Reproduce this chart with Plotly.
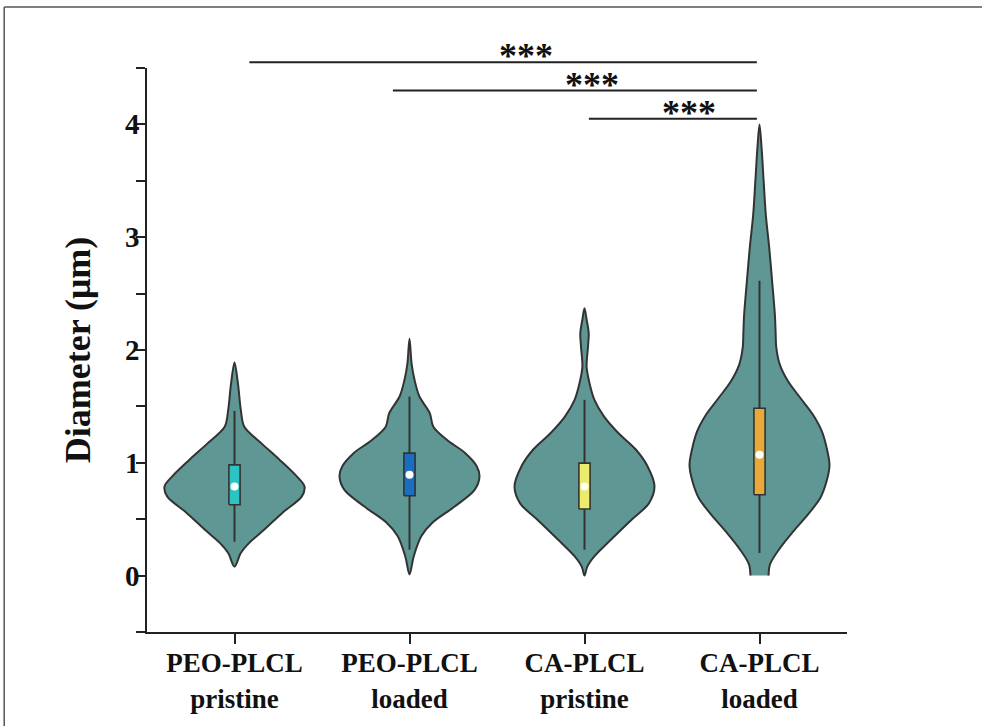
import plotly.graph_objects as go

# ---------------- data ----------------
categories = ["PEO-PLCL<br>pristine", "PEO-PLCL<br>loaded", "CA-PLCL<br>pristine", "CA-PLCL<br>loaded"]

# violin density profiles (y level in µm, relative half-width 0..1)
v1_y = [0.08, 0.20, 0.29, 0.41, 0.56, 0.70, 0.79, 0.88, 1.03, 1.17, 1.32, 1.47, 1.70, 1.89]
v1_d = [0.0, 0.09, 0.21, 0.43, 0.69, 0.96, 1.0, 0.89, 0.64, 0.39, 0.14, 0.09, 0.05, 0.0]

v2_y = [0.01, 0.17, 0.35, 0.47, 0.61, 0.76, 0.88, 0.97, 1.09, 1.20, 1.32, 1.44, 1.59, 1.74, 1.88, 2.10]
v2_d = [0.0, 0.06, 0.17, 0.33, 0.64, 0.93, 1.0, 0.96, 0.79, 0.54, 0.34, 0.29, 0.14, 0.07, 0.03, 0.0]

v3_y = [0.0, 0.08, 0.17, 0.32, 0.50, 0.64, 0.79, 0.97, 1.12, 1.26, 1.41, 1.56, 1.71, 1.85, 2.03, 2.15, 2.27, 2.37]
v3_d = [0.0, 0.04, 0.14, 0.38, 0.68, 0.92, 1.0, 0.90, 0.73, 0.49, 0.28, 0.14, 0.07, 0.03, 0.05, 0.06, 0.03, 0.0]

v4_y = [0.0, 0.10, 0.25, 0.39, 0.54, 0.69, 0.84, 0.98, 1.13, 1.28, 1.43, 1.57, 1.72, 1.87, 2.02, 2.16, 2.31,
        2.61, 2.90, 3.20, 3.49, 3.79, 4.0]
v4_d = [0.13, 0.15, 0.30, 0.48, 0.69, 0.87, 0.96, 1.0, 0.96, 0.89, 0.76, 0.59, 0.41, 0.29, 0.24, 0.23, 0.22,
        0.18, 0.14, 0.09, 0.06, 0.03, 0.0]

violin_y = [v1_y, v2_y, v3_y, v4_y]
violin_d = [v1_d, v2_d, v3_d, v4_d]

# box statistics
q1 = [0.628, 0.708, 0.590, 0.717]
q3 = [0.982, 1.086, 0.997, 1.484]
median = [0.79, 0.894, 0.79, 1.071]
whisker_lo = [0.30, 0.23, 0.23, 0.20]
whisker_hi = [1.46, 1.587, 1.558, 2.613]

# significance brackets
sig_start = [0.085, 0.905, 2.025]
sig_end = [2.985, 2.985, 2.985]
sig_level = [4.55, 4.30, 4.05]
sig_star_x = [1.663, 2.045, 2.596]
sig_text = ["***", "***", "***"]

y_ticks = [0, 1, 2, 3, 4]
y_ticklabels = ["0", "1", "2", "3", "4"]

# ---------------- style ----------------
VIOLIN_FILL = "#5f9794"
OUTLINE = "#333333"
BOX_COLORS = ["#2ec3c3", "#1a6ec2", "#ecec6c", "#e8a83a"]
HALF_WIDTH = 0.40
BOX_HALF = 0.032
FONT = "Liberation Serif"
Y_RANGE = [-0.5, 4.5]

fig = go.Figure()

for i in range(len(categories)):
    ys = violin_y[i]
    ds = violin_d[i]
    left_x = [i - HALF_WIDTH * d for d in ds]
    right_x = [i + HALF_WIDTH * d for d in ds]
    xs = left_x + right_x[::-1][1:]
    yy = ys + ys[::-1][1:]
    fig.add_trace(go.Scatter(
        x=xs, y=yy, mode="lines", fill="toself", fillcolor=VIOLIN_FILL,
        line=dict(color=OUTLINE, width=2, shape="spline", smoothing=0.9),
        hoverinfo="skip", showlegend=False))
    # whisker
    fig.add_trace(go.Scatter(
        x=[i, i], y=[whisker_lo[i], whisker_hi[i]], mode="lines",
        line=dict(color=OUTLINE, width=2), hoverinfo="skip", showlegend=False))
    # box
    fig.add_trace(go.Scatter(
        x=[i - BOX_HALF, i + BOX_HALF, i + BOX_HALF, i - BOX_HALF, i - BOX_HALF],
        y=[q1[i], q1[i], q3[i], q3[i], q1[i]], mode="lines", fill="toself",
        fillcolor=BOX_COLORS[i], line=dict(color=OUTLINE, width=1.6),
        hoverinfo="skip", showlegend=False))
    # median
    fig.add_trace(go.Scatter(
        x=[i], y=[median[i]], mode="markers",
        marker=dict(color="white", size=8, line=dict(width=0)),
        hoverinfo="skip", showlegend=False))

def to_paper(v):
    return (v - Y_RANGE[0]) / (Y_RANGE[1] - Y_RANGE[0])

shapes = []
annotations = []
for s, e, lvl, sx, t in zip(sig_start, sig_end, sig_level, sig_star_x, sig_text):
    shapes.append(dict(type="line", xref="x", yref="paper", x0=s, x1=e,
                       y0=to_paper(lvl), y1=to_paper(lvl),
                       line=dict(color="#222222", width=2)))
    annotations.append(dict(x=sx, y=to_paper(lvl), xref="x", yref="paper",
                            text=t, showarrow=False, yanchor="bottom", yshift=-16,
                            font=dict(family=FONT, size=36, weight="bold", color="#111111")))

# y tick labels placed close to the ticks
for v, lab in zip(y_ticks, y_ticklabels):
    annotations.append(dict(x=0, y=v, xref="paper", yref="y", text=lab, showarrow=False,
                            xanchor="right", yanchor="middle", xshift=-5,
                            font=dict(family=FONT, size=29, weight="bold", color="#111111")))

# outer frame (left and top edges)
shapes.append(dict(type="line", xref="paper", yref="paper", x0=-0.204, x1=-0.204, y0=-0.3, y1=1.108,
                   line=dict(color="#555555", width=1.5)))
shapes.append(dict(type="line", xref="paper", yref="paper", x0=-0.204, x1=1.3, y0=1.108, y1=1.108,
                   line=dict(color="#555555", width=1.5)))

fig.update_layout(
    width=982, height=726, autosize=False,
    margin=dict(l=147, r=135, t=68, b=94, autoexpand=False),
    paper_bgcolor="white", plot_bgcolor="white",
    shapes=shapes, annotations=annotations,
    font=dict(family=FONT, color="#111111"),
)
fig.update_xaxes(
    range=[-0.5, 3.5], tickvals=list(range(len(categories))), ticktext=categories,
    showline=True, linecolor="#222222", linewidth=2,
    ticks="outside", ticklen=10, tickwidth=2, tickcolor="#222222",
    tickfont=dict(family=FONT, size=27, weight="bold", color="#111111"),
    ticklabelstandoff=-4,
    showgrid=False, zeroline=False, automargin=False,
)
fig.update_yaxes(
    range=Y_RANGE, tickvals=y_ticks, showticklabels=False,
    showline=True, linecolor="#222222", linewidth=2,
    ticks="outside", ticklen=9, tickwidth=2, tickcolor="#222222",
    minor=dict(dtick=0.5, tick0=0, ticks="outside", ticklen=9, tickwidth=2, tickcolor="#222222", showgrid=False),
    title=dict(text="Diameter (μm)", standoff=34,
               font=dict(family=FONT, size=36, weight="bold", color="#111111")),
    showgrid=False, zeroline=False, automargin=False,
)

fig.write_html("out.html", config={"displayModeBar": False},
               post_script="document.body.style.margin='0';document.body.style.overflow='hidden';")
